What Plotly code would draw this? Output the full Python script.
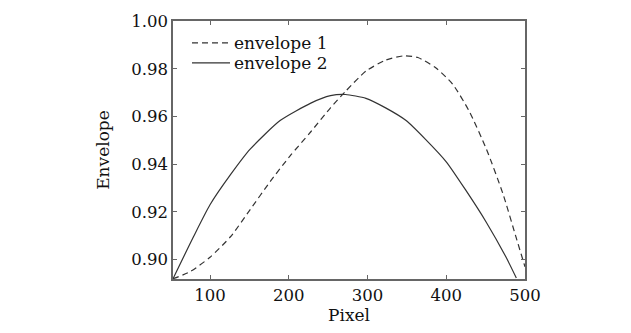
import plotly.graph_objects as go

# envelope 1 (dashed)
env1_x = [53, 75, 100, 126, 151, 177, 202, 228, 253, 272, 298, 323, 346, 364, 387, 408, 429, 451, 472, 489, 500]
env1_y = [0.892, 0.895, 0.901, 0.9096, 0.921, 0.933, 0.9436, 0.9536, 0.9636, 0.9705, 0.979, 0.9836, 0.9854, 0.9847,
          0.9803, 0.9736, 0.9623, 0.9463, 0.9276, 0.909, 0.897]
# envelope 2 (solid)
env2_x = [53, 79, 100, 126, 151, 189, 228, 253, 272, 298, 323, 349, 374, 400, 425, 451, 476, 489]
env2_y = [0.892, 0.9096, 0.923, 0.9356, 0.9463, 0.9583, 0.9656, 0.9687, 0.9692, 0.9676, 0.9636, 0.9583,
          0.9503, 0.941, 0.929, 0.9156, 0.901, 0.8923]

x_ticks = [100, 200, 300, 400, 500]
y_ticks = [0.90, 0.92, 0.94, 0.96, 0.98, 1.00]
y_tick_text = ["0.90", "0.92", "0.94", "0.96", "0.98", "1.00"]
names = ["envelope 1", "envelope 2"]

FONT = "DejaVu Serif"
LINE = "#333333"
AX = "#666666"

fig = go.Figure()
fig.add_trace(go.Scatter(x=env1_x, y=env1_y, mode="lines", name=names[0],
                         line=dict(color=LINE, width=1.2, dash="6px,4px", shape="spline", smoothing=0.6),
                         showlegend=False))
fig.add_trace(go.Scatter(x=env2_x, y=env2_y, mode="lines", name=names[1],
                         line=dict(color=LINE, width=1.2, shape="spline", smoothing=0.6),
                         showlegend=False))

axis_common = dict(showline=True, linecolor=AX, linewidth=1.5, mirror="ticks", ticks="inside",
                   ticklen=4, tickcolor=AX, tickwidth=1, showgrid=False, zeroline=False,
                   tickfont=dict(family=FONT, size=16.5, color="#111"))
fig.update_xaxes(range=[53, 500], tickvals=x_ticks, title=dict(text="Pixel", standoff=5,
                 font=dict(family=FONT, size=17, color="#111")), **axis_common)
fig.update_yaxes(range=[0.8919, 1.0], tickvals=y_ticks, ticktext=y_tick_text,
                 title=dict(text="Envelope", standoff=17, font=dict(family=FONT, size=17, color="#111")),
                 **axis_common)

# custom legend (in paper coordinates)
W = 631 - 173 - 106
H = 333 - 15 - 47
def px(xp):
    return (xp - 173) / W
def py(yp):
    return (333 - 47 - yp) / H

for i, (nm, dash) in enumerate(zip(names, ["6px,4px", "solid"])):
    yy = 38 + i * 21
    fig.add_shape(type="line", xref="paper", yref="paper", x0=px(192), x1=px(230), y0=py(yy), y1=py(yy),
                  line=dict(color=LINE, width=1.2, dash=dash))
    fig.add_annotation(xref="paper", yref="paper", x=px(232), y=py(yy), text=nm, showarrow=False,
                       xanchor="left", yanchor="middle", font=dict(family=FONT, size=17, color="#111"))

fig.update_layout(width=631, height=333, margin=dict(l=173, r=106, t=15, b=47),
                  paper_bgcolor="white", plot_bgcolor="white", showlegend=False)
fig.write_html("out.html")
